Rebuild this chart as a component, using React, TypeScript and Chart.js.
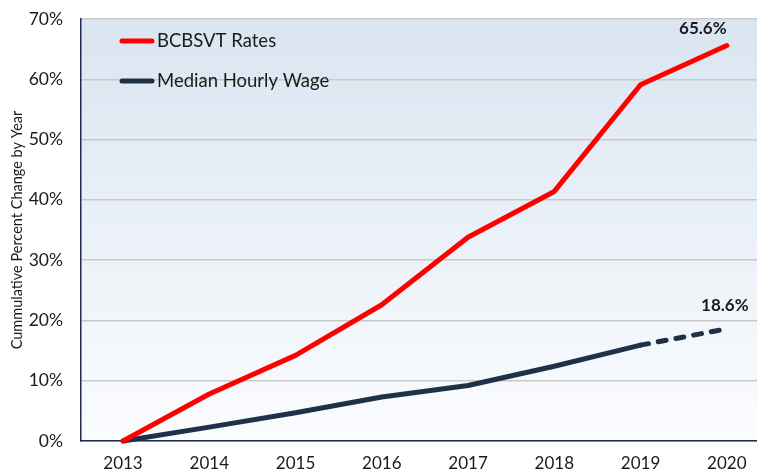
import React, { useEffect, useRef } from 'react';
import { Chart, registerables } from 'chart.js';

Chart.register(...registerables);

const years = [2013, 2014, 2015, 2016, 2017, 2018, 2019, 2020];
const bcbsvtRates = [0, 7.8, 14.2, 22.6, 33.8, 41.4, 59.1, 65.6];
const medianHourlyWage = [0, 2.3, 4.7, 7.3, 9.2, 12.4, 15.9, 18.6];
const seriesNames = ['BCBSVT Rates', 'Median Hourly Wage'];
const seriesColors = ['#ff0000', '#1f3049'];
const endLabels = ['65.6%', '18.6%'];
const yTickValues = [0, 10, 20, 30, 40, 50, 60, 70];
const yAxisTitle = 'Cummulative Percent Change by Year';

const FONT = 'Lato, "Noto Sans", sans-serif';
const AXIS_COLOR = '#1f2a4f';

const backgroundPlugin = {
  id: 'plotBackground',
  beforeDraw(chart: any) {
    const { ctx, chartArea } = chart;
    if (!chartArea) return;
    const g = ctx.createLinearGradient(0, chartArea.top, 0, chartArea.bottom);
    g.addColorStop(0, '#dae5f1');
    g.addColorStop(1, '#fbfcfe');
    ctx.save();
    ctx.fillStyle = g;
    ctx.fillRect(chartArea.left, chartArea.top, chartArea.right - chartArea.left, chartArea.bottom - chartArea.top);
    ctx.restore();
  },
};

const legendPlugin = {
  id: 'insideLegend',
  afterDatasetsDraw(chart: any) {
    const { ctx, chartArea } = chart;
    const x0 = chartArea.left + 39;
    const rows = [chartArea.top + 22, chartArea.top + 62];
    ctx.save();
    chart.data.datasets.forEach((ds: any, i: number) => {
      const y = rows[i];
      ctx.strokeStyle = ds.borderColor;
      ctx.lineWidth = 5;
      ctx.lineCap = 'round';
      ctx.beginPath();
      ctx.moveTo(x0 + 2, y);
      ctx.lineTo(x0 + 32, y);
      ctx.stroke();
      ctx.fillStyle = '#1a1a1a';
      ctx.font = `18.5px ${FONT}`;
      ctx.textBaseline = 'middle';
      ctx.textAlign = 'left';
      ctx.fillText(ds.label, x0 + 37, y);
    });
    ctx.restore();
  },
};

const endLabelPlugin = {
  id: 'endLabels',
  afterDatasetsDraw(chart: any) {
    const { ctx } = chart;
    const offsets = [
      [-24, -17],
      [-2, -23],
    ];
    ctx.save();
    ctx.font = `bold 17px ${FONT}`;
    ctx.fillStyle = '#1a1a1a';
    ctx.textAlign = 'center';
    ctx.textBaseline = 'middle';
    chart.data.datasets.forEach((ds: any, i: number) => {
      const meta = chart.getDatasetMeta(i);
      const pt = meta.data[meta.data.length - 1];
      if (!pt) return;
      ctx.fillText(endLabels[i], pt.x + offsets[i][0], pt.y + offsets[i][1]);
    });
    ctx.restore();
  },
};

export default function App() {
  const canvasRef = useRef<HTMLCanvasElement | null>(null);

  useEffect(() => {
    document.body.style.margin = '0';
    const canvas = canvasRef.current;
    if (!canvas) return;
    const chart = new Chart(canvas, {
      type: 'line',
      data: {
        datasets: [
          {
            label: seriesNames[0],
            data: years.map((x, i) => ({ x, y: bcbsvtRates[i] })),
            borderColor: seriesColors[0],
            backgroundColor: seriesColors[0],
            borderWidth: 5,
            pointRadius: 0,
            borderCapStyle: 'round',
            borderJoinStyle: 'round',
            clip: false as any,
          },
          {
            label: seriesNames[1],
            data: years.map((x, i) => ({ x, y: medianHourlyWage[i] })),
            borderColor: seriesColors[1],
            backgroundColor: seriesColors[1],
            borderWidth: 5,
            pointRadius: 0,
            borderCapStyle: 'round',
            borderJoinStyle: 'round',
            clip: false as any,
            segment: {
              borderDash: (c: any) => (c.p0DataIndex >= years.length - 2 ? [8, 10] : undefined),
            },
          },
        ],
      },
      options: {
        responsive: false,
        animation: false,
        devicePixelRatio: 1,
        layout: { padding: { top: 19, left: 0, right: 0, bottom: 0 } },
        plugins: {
          legend: { display: false },
          tooltip: { enabled: false },
        },
        scales: {
          x: {
            type: 'linear',
            min: 2012.513,
            max: 2020.35,
            afterBuildTicks: (scale: any) => {
              scale.ticks = years.map((v) => ({ value: v }));
            },
            afterFit: (scale: any) => {
              scale.height = 31;
              scale.paddingLeft = 0;
              scale.paddingRight = 0;
            },
            grid: { display: false, drawTicks: false },
            border: { display: true, color: AXIS_COLOR, width: 1.5 },
            ticks: {
              padding: 12,
              color: '#1a1a1a',
              font: { family: FONT, size: 17 },
              callback: (v: any) => String(v),
              maxRotation: 0,
              autoSkip: false,
            },
          },
          y: {
            type: 'linear',
            min: 0,
            max: 70,
            afterBuildTicks: (scale: any) => {
              scale.ticks = yTickValues.map((v) => ({ value: v }));
            },
            afterFit: (scale: any) => {
              scale.width = 81;
              scale.paddingTop = 0;
              scale.paddingBottom = 0;
            },
            grid: { color: '#c9c9c9', lineWidth: 1.5, drawTicks: false },
            border: { display: true, color: AXIS_COLOR, width: 1.5 },
            ticks: {
              padding: 18,
              color: '#1a1a1a',
              font: { family: FONT, size: 17.5 },
              callback: (v: any) => `${v}%`,
            },
            title: {
              display: true,
              text: yAxisTitle,
              color: '#1a1a1a',
              font: { family: FONT, size: 14.5 },
              padding: { top: 9, bottom: 0 },
            },
          },
        },
      },
      plugins: [backgroundPlugin, legendPlugin, endLabelPlugin],
    } as any);
    return () => chart.destroy();
  }, []);

  return (
    <div style={{ width: 757, height: 472 }}>
      <canvas ref={canvasRef} width={757} height={472} />
    </div>
  );
}
